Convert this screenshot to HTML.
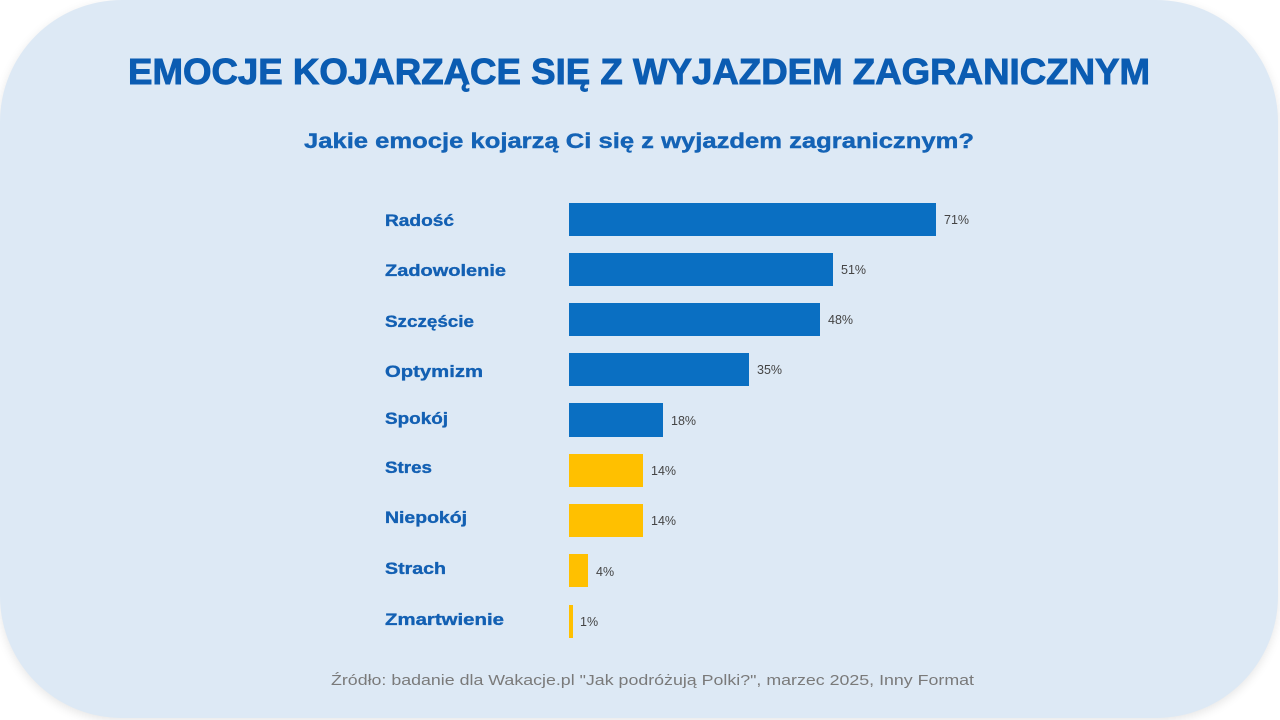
<!DOCTYPE html>
<html>
<head>
<meta charset="utf-8">
<style>
  html,body{margin:0;padding:0;background:#ffffff;width:1280px;height:720px;overflow:hidden;}
  .card{position:absolute;left:0;top:0;width:1278px;height:718px;background:#dde9f5;border-radius:122px;box-shadow:0 3px 10px rgba(0,0,0,0.10);}
  svg{position:absolute;left:0;top:0;}
  text{font-family:"Liberation Sans","DejaVu Sans",sans-serif;}
</style>
</head>
<body>
<div class="card"></div>
<svg width="1280" height="720" viewBox="0 0 1280 720" xmlns="http://www.w3.org/2000/svg">
  <text x="128" y="84" font-size="36" font-weight="bold" fill="#0b5cb2" stroke="#0b5cb2" stroke-width="0.9" textLength="1022" lengthAdjust="spacingAndGlyphs">EMOCJE KOJARZĄCE SIĘ Z WYJAZDEM ZAGRANICZNYM</text>
  <text x="304" y="148" font-size="21" font-weight="bold" fill="#1463b6" stroke="#1463b6" stroke-width="0.4" textLength="670" lengthAdjust="spacingAndGlyphs">Jakie emocje kojarzą Ci się z wyjazdem zagranicznym?</text>

  <g font-size="17" font-weight="bold" fill="#1360b3" stroke="#1360b3" stroke-width="0.35">
    <text x="385" y="226" textLength="69" lengthAdjust="spacingAndGlyphs">Radość</text>
    <text x="385" y="276" textLength="121" lengthAdjust="spacingAndGlyphs">Zadowolenie</text>
    <text x="385" y="327" textLength="89" lengthAdjust="spacingAndGlyphs">Szczęście</text>
    <text x="385" y="377" textLength="98" lengthAdjust="spacingAndGlyphs">Optymizm</text>
    <text x="385" y="424" textLength="63" lengthAdjust="spacingAndGlyphs">Spokój</text>
    <text x="385" y="473" textLength="47" lengthAdjust="spacingAndGlyphs">Stres</text>
    <text x="385" y="523" textLength="82" lengthAdjust="spacingAndGlyphs">Niepokój</text>
    <text x="385" y="574" textLength="61" lengthAdjust="spacingAndGlyphs">Strach</text>
    <text x="385" y="625" textLength="119" lengthAdjust="spacingAndGlyphs">Zmartwienie</text>
  </g>

  <g fill="#0a6fc2">
    <rect x="569" y="203" width="367" height="33"/>
    <rect x="569" y="253" width="264" height="33"/>
    <rect x="569" y="303" width="251" height="33"/>
    <rect x="569" y="353" width="180" height="33"/>
    <rect x="569" y="403" width="94" height="34"/>
  </g>
  <g fill="#ffc000">
    <rect x="569" y="454" width="74" height="33"/>
    <rect x="569" y="504" width="74" height="33"/>
    <rect x="569" y="554" width="19" height="33"/>
    <rect x="569" y="605" width="4" height="33"/>
  </g>

  <g font-size="12.5" fill="#444444">
    <text x="944" y="224">71%</text>
    <text x="841" y="274">51%</text>
    <text x="828" y="324">48%</text>
    <text x="757" y="374">35%</text>
    <text x="671" y="425">18%</text>
    <text x="651" y="475">14%</text>
    <text x="651" y="525">14%</text>
    <text x="596" y="576">4%</text>
    <text x="580" y="626">1%</text>
  </g>

  <text x="331" y="685" font-size="15" fill="#7a7a7a" textLength="643" lengthAdjust="spacingAndGlyphs">Źródło: badanie dla Wakacje.pl "Jak podróżują Polki?", marzec 2025, Inny Format</text>
</svg>
</body>
</html>
